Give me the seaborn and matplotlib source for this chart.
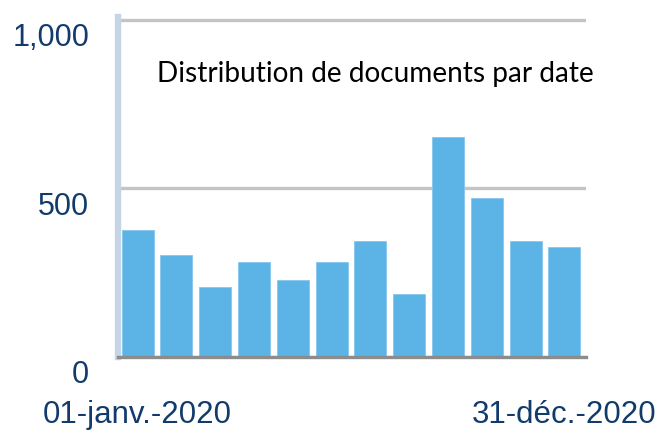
import pandas as pd
import numpy as np
import matplotlib
matplotlib.use('Agg')
import matplotlib.pyplot as plt
import matplotlib.transforms as mtransforms
import seaborn as sns

# ── data ──────────────────────────────────────────────────────────
mois = ['janv.', 'févr.', 'mars', 'avr.', 'mai', 'juin',
        'juil.', 'août', 'sept.', 'oct.', 'nov.', 'déc.']
documents = [377, 302, 207, 282, 228, 282, 344, 186, 653, 471, 344, 324]
y_ticks = [0, 500, 1000]
y_tick_labels = ['0', '500', '1,000']
x_tick_labels = ['01-janv.-2020', '31-déc.-2020']
titre = 'Distribution de documents par date'

df = pd.DataFrame({'mois': mois, 'documents': documents})

sns.set_style('white')
plt.rcParams['font.family'] = ['Liberation Sans', 'DejaVu Sans']

BAR = '#5cb3e5'
TICK = '#123b6c'

fig = plt.figure(figsize=(6.61, 4.31), dpi=100)
ax = fig.add_axes([118.3 / 661, 1 - 357.5 / 431, 467.5 / 661, 339.2 / 431])

sns.barplot(data=df, x='mois', y='documents', color=BAR, saturation=1,
            width=0.825, edgecolor='#86c7ee', linewidth=0.6, ax=ax)

ax.set_xlim(-0.5, len(mois) - 0.45)
ax.set_ylim(0, 1008)
ax.set_xlabel('')
ax.set_ylabel('')

# ── grid & spines ─────────────────────────────────────────────────
ax.set_axisbelow(True)
ax.yaxis.grid(True, color='#c4c4c4', linewidth=2.4)
ax.xaxis.grid(False)
for s in ['top', 'right']:
    ax.spines[s].set_visible(False)
ax.spines['left'].set_color('#c5d5e5')
ax.spines['left'].set_linewidth(4.6)
ax.spines['bottom'].set_color('#8c8c8c')
ax.spines['bottom'].set_linewidth(2.4)
ax.spines['bottom'].set_zorder(3)

# ── ticks ─────────────────────────────────────────────────────────
ax.set_yticks(y_ticks)
ax.set_yticklabels(y_tick_labels)
ax.set_xticks([0, len(mois) - 1])
ax.set_xticklabels(x_tick_labels)
ax.tick_params(axis='y', length=0, pad=21, labelsize=22, labelcolor=TICK)
ax.tick_params(axis='x', length=0, pad=30.5, labelsize=22.5, labelcolor=TICK)

# labels sit a bit below their gridline in the original
off = mtransforms.ScaledTranslation(0, -0.14, fig.dpi_scale_trans)
for lab in ax.get_yticklabels():
    lab.set_transform(lab.get_transform() + off)

fig.text(375 / 661, 1 - 81.7 / 431, titre, ha='center', va='baseline',
         fontsize=20.2, color='black', family=['Lato', 'DejaVu Sans'])

fig.savefig('out.png', dpi=100)
plt.close(fig)
